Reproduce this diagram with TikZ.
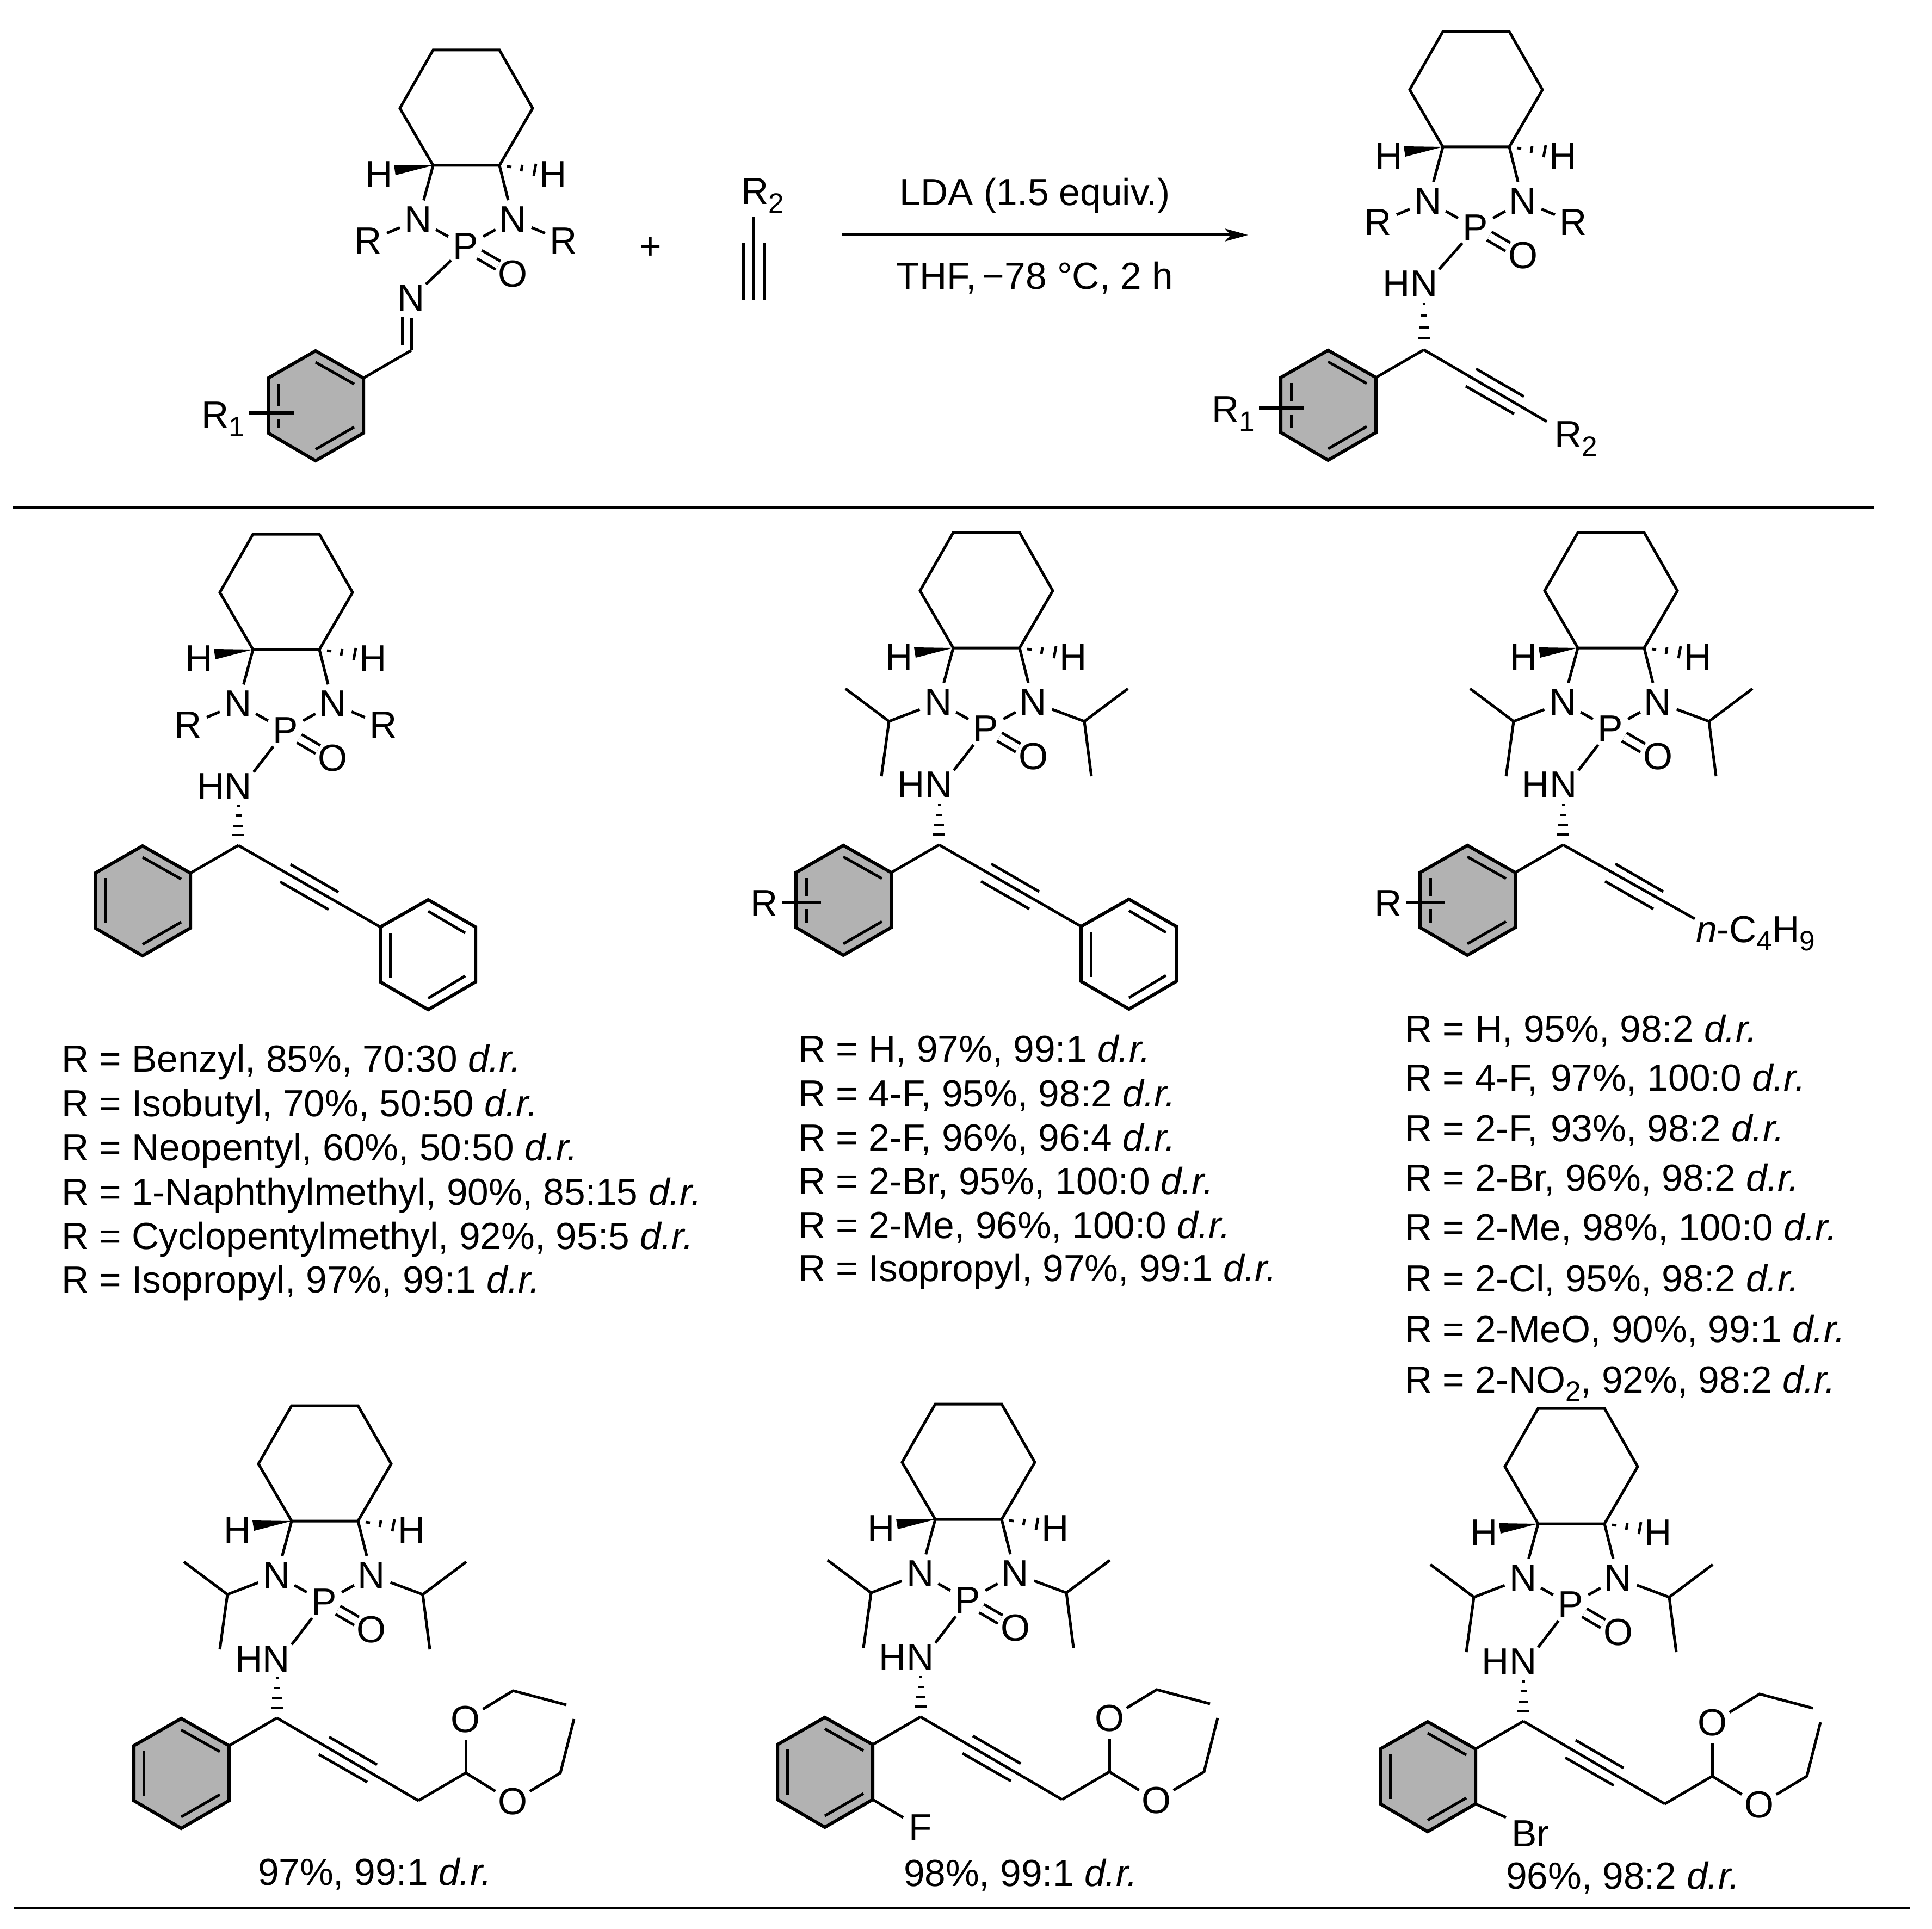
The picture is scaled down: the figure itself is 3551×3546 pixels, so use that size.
\documentclass[tikz,border=0pt]{standalone}
\usepackage{fontspec}
\setmainfont{Liberation Sans}
\usetikzlibrary{arrows.meta}
\definecolor{ringgray}{HTML}{B2B2B2}
\newcommand{\lowered}[1]{\raisebox{-0.22em}{\fontsize{14.6}{16}\selectfont #1}}
\tikzset{
  bond/.style={line width=0.05cm},
  ringbond/.style={line width=0.06cm,line join=miter},
  hashbond/.style={line width=0.048cm},
  atom/.style={circle,inner sep=0pt,outer sep=0pt,minimum size=0.74cm,font=\fontsize{19.75}{23}\selectfont},
  group/.style={inner sep=0.03cm,outer sep=0pt,font=\fontsize{19.75}{23}\selectfont},
  yieldline/.style={anchor=base west,inner sep=0pt,outer sep=0pt,font=\fontsize{19.75}{23}\selectfont}
}
% Cyclohexane, both stereo bonds, both N, P and O
\newcommand{\drawCore}{%
  \coordinate (c1) at (0,0);
  \coordinate (c2) at (122,0);
  \coordinate (c3) at (183,-105);
  \coordinate (c4) at (122,-212);
  \coordinate (c5) at (0,-212);
  \coordinate (c6) at (-61,-105);
  \draw [bond,line join=miter] (c1) -- (c2) -- (c3) -- (c4) -- (c5) -- (c6) -- cycle;
  \node [atom] (hl) at (-99,17) {H};
  \node [atom] (hr) at (221,17) {H};
  \fill (c1) -- (-72,-1) -- (-69,18) -- cycle;
  \draw [hashbond] (136,2) -- (144,3);
  \draw [hashbond] (164,-1) -- (162,11);
  \draw [hashbond] (189,-3) -- (185,19);
  \node [atom] (nl) at (-27,100) {N};
  \node [atom] (nr) at (147,100) {N};
  \node [atom] (p) at (60,149) {P};
  \node [atom] (o) at (147,200) {O};
  \draw [bond] (c1) -- (nl);
  \draw [bond] (c2) -- (nr);
  \draw [bond] (nl) -- (p);
  \draw [bond] (nr) -- (p);
  \draw [bond,double,double distance=0.124cm,shorten <=-0.08cm,shorten >=-0.05cm] (p) -- (o);
}
% N substituents written as R
\newcommand{\drawRgroups}{%
  \node [atom] (rl) at (-119,139) {R};
  \node [atom] (rr) at (240,139) {R};
  \draw [bond] (nl) -- (rl);
  \draw [bond] (nr) -- (rr);
}
% N substituents written as isopropyl
\newcommand{\drawIsopropyl}{%
  \coordinate (il) at (-118,135);
  \coordinate (ila) at (-198,75);
  \coordinate (ilb) at (-132,236);
  \coordinate (ir) at (241,135);
  \coordinate (ira) at (321,75);
  \coordinate (irb) at (254,236);
  \draw [bond] (nl) -- (il);
  \draw [bond,line join=miter] (ila) -- (il) -- (ilb);
  \draw [bond] (nr) -- (ir);
  \draw [bond,line join=miter] (ira) -- (ir) -- (irb);
}
% NH group, arguments are x, y of its centre
\newcommand{\drawAmide}[2]{%
  \node [group] (hn) at (#1,#2) {HN};
  \draw [bond] (p) -- (hn.north east);
}
% Hashed bond above the stereo carbon at the local origin, argument stretches it
\newcommand{\drawHash}[1]{%
  \coordinate (chi) at (0,0);
  \foreach \yy/\ww in {-73/2.5,-55/5.5,-36/9,-19/11}
    \draw [hashbond] (-\ww,\yy*#1) -- (\ww,\yy*#1);
}
% Triple bond out of the stereo carbon, arguments are x, y of its far end
\newcommand{\drawAlkyne}[2]{%
  \coordinate (alk) at (#1,#2);
  \draw [bond] (chi) -- (alk);
  \draw [bond] (96,35) -- (184,86);
  \draw [bond] (77,67) -- (166,118);
}
% Shaded ring, the left double bond is added by the next two macros
\newcommand{\drawArene}{%
  \coordinate (att) at (-88,51);
  \draw [bond] (chi) -- (att);
  \begin{scope}[shift={(-88,51)}]
    \coordinate (arb) at (0,101);
    \draw [ringbond,fill=ringgray] (0,0) -- (-88,-50) -- (-175,0) -- (-175,101) -- (-88,152) -- (arb) -- cycle;
    \draw [bond] (-88,-29) -- (-17,11);
    \draw [bond] (-88,131) -- (-17,90);
  \end{scope}
}
\newcommand{\drawAreneLeft}{%
  \begin{scope}[shift={(-88,51)}]
    \draw [bond] (-157,9) -- (-157,92);
  \end{scope}
}
% Arguments are the left and right x and the y of the substituent line
\newcommand{\drawAreneBar}[3]{%
  \begin{scope}[shift={(-88,51)}]
    \coordinate (bl) at (#1,#3);
    \coordinate (br) at (#2,#3);
    \draw [bond] (-156,10) -- (-156,#3-12);
    \draw [bond] (-156,#3+12) -- (-156,92);
    \draw [bond] (bl) -- (br);
  \end{scope}
}
% Plain ring at the far end of the triple bond
\newcommand{\drawPhenyl}{%
  \begin{scope}[shift={(261,150)}]
    \draw [ringbond] (0,0) -- (88,-50) -- (175,0) -- (175,101) -- (88,152) -- (0,101) -- cycle;
    \draw [bond] (18,11) -- (18,93);
    \draw [bond] (88,-29) -- (156,11);
    \draw [bond] (88,131) -- (156,90);
  \end{scope}
}
% Diethyl acetal at the far end of the triple bond
\newcommand{\drawAcetal}{%
  \coordinate (ch) at (347,101);
  \coordinate (cta) at (434,-50);
  \coordinate (mta) at (532,-24);
  \coordinate (ctb) at (521,101);
  \coordinate (mtb) at (546,2);
  \node [atom] (oa) at (347,3) {O};
  \node [atom] (ob) at (433,154) {O};
  \draw [bond,line join=miter] (alk) -- (ch);
  \draw [bond] (ch) -- (oa);
  \draw [bond] (ch) -- (ob);
  \draw [bond,line join=miter] (oa) -- (cta) -- (mta);
  \draw [bond,line join=miter] (ob) -- (ctb) -- (mtb);
}
\begin{document}
\begin{tikzpicture}[x=0.01cm,y=-0.01cm]
  \useasboundingbox (0,0) rectangle (3551,3546);

  % Drawing the imine
  \begin{scope}[shift={(796,304)},name prefix=imine-]
    \drawCore
    \drawRgroups
    \node [atom] (ni) at (-40,244) {N};
    \draw [bond] (p) -- (ni);
    \begin{scope}[shift={(-40,340)}]
      \coordinate (chi) at (0,0);
      \draw [bond] (ni) -- (chi);
      \draw [bond] (-17,-62) -- (-17,-10);
      \drawArene
      \drawAreneBar{-210}{-127}{64}
      \node [group,anchor=base east,inner sep=0pt] (rone) at (-307,143) {R\lowered{1}};
    \end{scope}
  \end{scope}

  % Drawing the plus sign and the alkyne
  \node [group] (plus) at (1196,456) {+};
  \node [group,anchor=base west,inner sep=0pt] (rtwo) at (1362,376) {R\lowered{2}};
  \coordinate (alka) at (1385,399);
  \coordinate (alkb) at (1385,552);
  \draw [bond] (alka) -- (alkb);
  \draw [bond] (1366,447) -- (1366,552);
  \draw [bond] (1404,447) -- (1404,552);

  % Drawing the arrow and its conditions
  \node [yieldline,anchor=base] (lda) at (1902,378) {LDA (1.5 equiv.)};
  \node [yieldline,anchor=base] (thf) at (1902,532) {THF,\,−78 °C, 2 h};
  \coordinate (arrowa) at (1548,432);
  \coordinate (arrowb) at (2294,432);
  \draw [-{Stealth[length=0.42cm,width=0.23cm,inset=0.1cm]},line width=0.05cm] (arrowa) -- (arrowb);

  % Drawing the product
  \begin{scope}[shift={(2652,270)},name prefix=prod-]
    \drawCore
    \drawRgroups
    \drawAmide{-60}{252}
    \begin{scope}[shift={(-35,373)}]
      \drawHash{1.15}
      \drawAlkyne{226}{132}
      \drawArene
      \drawAreneBar{-215}{-133}{56}
      \node [group,anchor=base east,inner sep=0pt] (rone) at (-311,134) {R\lowered{1}};
      \node [group,anchor=base west,inner sep=0pt] (rtwo) at (240,180) {R\lowered{2}};
    \end{scope}
  \end{scope}

  % Drawing the upper rule
  \draw [line width=0.05cm] (23,933) -- (3445,933);

  % Drawing the first compound of the middle row
  \begin{scope}[shift={(465,1194)},name prefix=left-]
    \drawCore
    \drawRgroups
    \drawAmide{-52}{252}
    \begin{scope}[shift={(-27,360)}]
      \drawHash{1}
      \drawAlkyne{261}{150}
      \drawArene
      \drawAreneLeft
      \drawPhenyl
    \end{scope}
  \end{scope}
  \node [yieldline] (lefta) at (113,1970) {R = Benzyl, 85\%, 70:30 \textit{d.r.}};
  \node [yieldline] (leftb) at (113,2052) {R = Isobutyl, 70\%, 50:50 \textit{d.r.}};
  \node [yieldline] (leftc) at (113,2133) {R = Neopentyl, 60\%, 50:50 \textit{d.r.}};
  \node [yieldline] (leftd) at (113,2215) {R = 1-Naphthylmethyl, 90\%, 85:15 \textit{d.r.}};
  \node [yieldline] (lefte) at (113,2296) {R = Cyclopentylmethyl, 92\%, 95:5 \textit{d.r.}};
  \node [yieldline] (leftf) at (113,2376) {R = Isopropyl, 97\%, 99:1 \textit{d.r.}};

  % Drawing the second compound of the middle row
  \begin{scope}[shift={(1752,1191)},name prefix=mid-]
    \drawCore
    \drawIsopropyl
    \drawAmide{-52}{252}
    \begin{scope}[shift={(-26,362)}]
      \drawHash{1}
      \drawAlkyne{261}{150}
      \drawArene
      \drawAreneBar{-200}{-129}{55}
      \node [atom] (rs) at (-321,108) {R};
      \drawPhenyl
    \end{scope}
  \end{scope}
  \node [yieldline] (mida) at (1467,1952) {R = H, 97\%, 99:1 \textit{d.r.}};
  \node [yieldline] (midb) at (1467,2034) {R = 4-F, 95\%, 98:2 \textit{d.r.}};
  \node [yieldline] (midc) at (1467,2115) {R = 2-F, 96\%, 96:4 \textit{d.r.}};
  \node [yieldline] (midd) at (1467,2195) {R = 2-Br, 95\%, 100:0 \textit{d.r.}};
  \node [yieldline] (mide) at (1467,2276) {R = 2-Me, 96\%, 100:0 \textit{d.r.}};
  \node [yieldline] (midf) at (1467,2355) {R = Isopropyl, 97\%, 99:1 \textit{d.r.}};

  % Drawing the third compound of the middle row
  \begin{scope}[shift={(2900,1191)},name prefix=right-]
    \drawCore
    \drawIsopropyl
    \drawAmide{-52}{252}
    \begin{scope}[shift={(-27,362)}]
      \drawHash{1}
      \drawAlkyne{242}{136}
      \drawArene
      \drawAreneBar{-200}{-129}{55}
      \node [atom] (rs) at (-321,108) {R};
      \node [group,anchor=base west,inner sep=0pt] (butyl) at (244,179) {\textit{n}-C\lowered{4}H\lowered{9}};
    \end{scope}
  \end{scope}
  \node [yieldline] (righta) at (2582,1915) {R = H, 95\%, 98:2 \textit{d.r.}};
  \node [yieldline] (rightb) at (2582,2005) {R = 4-F,\,\,97\%, 100:0 \textit{d.r.}};
  \node [yieldline] (rightc) at (2582,2098) {R = 2-F,\,\,93\%, 98:2 \textit{d.r.}};
  \node [yieldline] (rightd) at (2582,2189) {R = 2-Br, 96\%, 98:2 \textit{d.r.}};
  \node [yieldline] (righte) at (2582,2280) {R = 2-Me, 98\%, 100:0 \textit{d.r.}};
  \node [yieldline] (rightf) at (2582,2374) {R = 2-Cl, 95\%, 98:2 \textit{d.r.}};
  \node [yieldline] (rightg) at (2582,2467) {R = 2-MeO, 90\%, 99:1 \textit{d.r.}};
  \node [yieldline] (righth) at (2582,2560) {R = 2-NO\lowered{2}, 92\%, 98:2 \textit{d.r.}};

  % Drawing the first compound of the bottom row
  \begin{scope}[shift={(536,2796)},name prefix=acl-]
    \drawCore
    \drawIsopropyl
    \drawAmide{-53}{254}
    \begin{scope}[shift={(-27,362)}]
      \drawHash{1}
      \drawAlkyne{260}{152}
      \drawArene
      \drawAreneLeft
      \drawAcetal
    \end{scope}
  \end{scope}
  \node [yieldline] (acla) at (474,3465) {97\%, 99:1 \textit{d.r.}};

  % Drawing the second compound of the bottom row
  \begin{scope}[shift={(1719,2793)},name prefix=acf-]
    \drawCore
    \drawIsopropyl
    \drawAmide{-53}{254}
    \begin{scope}[shift={(-27,363)}]
      \drawHash{1}
      \drawAlkyne{260}{152}
      \drawArene
      \drawAreneLeft
      \drawAcetal
      \node [atom] (fl) at (0,204) {F};
      \draw [bond] (-88,152) -- (fl);
    \end{scope}
  \end{scope}
  \node [yieldline] (acfa) at (1661,3467) {98\%, 99:1 \textit{d.r.}};

  % Drawing the third compound of the bottom row
  \begin{scope}[shift={(2827,2801)},name prefix=acb-]
    \drawCore
    \drawIsopropyl
    \drawAmide{-53}{254}
    \begin{scope}[shift={(-27,363)}]
      \drawHash{1}
      \drawAlkyne{260}{152}
      \drawArene
      \drawAreneLeft
      \drawAcetal
      \node [group] (brm) at (13,207) {Br};
      \draw [bond,shorten >=0.08cm] (-88,152) -- (brm.north west);
    \end{scope}
  \end{scope}
  \node [yieldline] (acba) at (2768,3472) {96\%, 98:2 \textit{d.r.}};

  % Drawing the lower rule
  \draw [line width=0.05cm] (26,3507) -- (3510,3507);
\end{tikzpicture}
\end{document}
